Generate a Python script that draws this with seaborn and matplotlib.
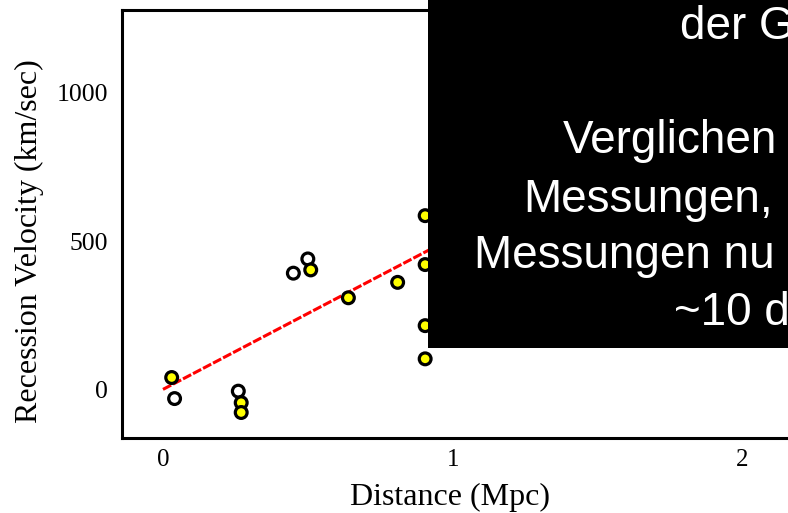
import matplotlib
matplotlib.use("Agg")
import matplotlib.pyplot as plt
import seaborn as sns
import pandas as pd
from matplotlib.patches import Rectangle

# ---- data ----
distance_mpc = [0.03, 0.04, 0.26, 0.27, 0.27, 0.45, 0.50, 0.51, 0.64, 0.81, 0.905, 0.905, 0.905, 0.905]
velocity_kms = [40, -31, -6, -45, -78, 392, 440, 403, 309, 361, 586, 421, 215, 103]
point_style = ["filled", "open", "open", "filled", "filled", "open", "open", "filled",
               "filled", "filled", "filled", "filled", "filled", "filled"]

fit_distance = [0.0, 2.0]
fit_velocity = [0, 1024]

x_ticks = [0, 1, 2]
x_tick_labels = ["0", "1", "2"]
y_ticks = [0, 500, 1000]
y_tick_labels = ["0", "500", "1000"]

x_label = "Distance (Mpc)"
y_label = "Recession Velocity (km/sec)"

# visible part of the overlay text (cut at the right edge in the reference)
overlay_lines = ["der G", "Verglichen", "Messungen,", "Messungen nu", "~10 d"]

df = pd.DataFrame({"distance": distance_mpc, "velocity": velocity_kms, "style": point_style})

sns.set_theme(style="white")
plt.rcParams['font.family'] = ['Liberation Serif', 'DejaVu Serif']

W, H = 788, 513
fig = plt.figure(figsize=(W / 100, H / 100), dpi=100)
fig.patch.set_facecolor("white")

left_px, right_px, bottom_px, top_px = 122, 800.3, 438.3, 10.5
ax = fig.add_axes([left_px / W, (H - bottom_px) / H, (right_px - left_px) / W, (bottom_px - top_px) / H])
ax.set_facecolor("white")

sns.lineplot(x=fit_distance, y=fit_velocity, color="#ff0000", linewidth=2.2,
             linestyle=(0, (3, 0.7)), ax=ax, zorder=2)
sns.scatterplot(data=df, x="distance", y="velocity", hue="style",
                palette={"filled": "#ffff00", "open": "#ffffff"},
                edgecolor="black", linewidth=2.3, s=72, legend=False, ax=ax, zorder=3)

ax.set_xlim(-0.1415, 2.2)
ax.set_ylim(-165, 1278)
ax.set_xticks(x_ticks)
ax.set_xticklabels(x_tick_labels)
ax.set_yticks(y_ticks)
ax.set_yticklabels(y_tick_labels)

for sp in ax.spines.values():
    sp.set_color("black")
    sp.set_linewidth(2.2)

ax.tick_params(axis="x", direction="in", length=16, width=2.2, color="black",
               labelsize=18, pad=8, labelcolor="black")
ax.tick_params(axis="y", direction="in", length=19, width=2.2, color="black",
               labelsize=18.5, pad=10, labelcolor="black")

ax.set_xlabel(x_label, fontsize=23, color="black", va="center", ha="center")
ax.set_ylabel(y_label, fontsize=23, color="black", va="center", ha="center")
ax.xaxis.set_label_coords((450 - left_px) / (right_px - left_px), (bottom_px - 497) / (bottom_px - top_px))
ax.yaxis.set_label_coords((29 - left_px) / (right_px - left_px), (bottom_px - 241) / (bottom_px - top_px))
ax.grid(False)

# black overlay box with white text
box_left, box_bottom = 428, 347.5
fig.add_artist(Rectangle((box_left / W, (H - box_bottom) / H), 1 - box_left / W + 0.02, 1,
                         transform=fig.transFigure, facecolor="black", edgecolor="none", zorder=10))

text_x = [680, 563, 523, 474, 674]
text_baseline = [39.3, 153.3, 211.7, 268.3, 325]
for s, tx, ty in zip(overlay_lines, text_x, text_baseline):
    fig.text(tx / W, 1 - ty / H, s, color="white", fontsize=33,
             family=["Liberation Sans", "DejaVu Sans"], ha="left", va="baseline", zorder=11)

fig.savefig("out.png", dpi=100)
